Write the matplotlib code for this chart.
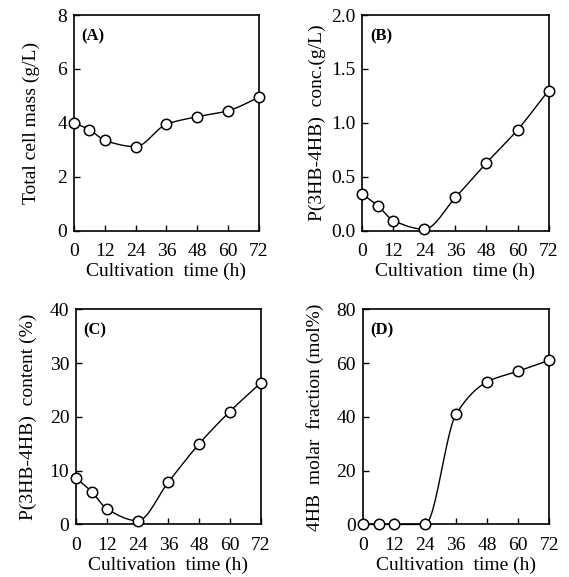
import numpy as np
import matplotlib
matplotlib.use("Agg")
import matplotlib.pyplot as plt

time_h = [0, 6, 12, 24, 36, 48, 60, 72]
cell_mass = [4.0, 3.75, 3.35, 3.12, 3.95, 4.23, 4.45, 4.95]
polymer_conc = [0.34, 0.23, 0.095, 0.015, 0.31, 0.63, 0.935, 1.30]
polymer_content = [8.6, 6.1, 2.9, 0.7, 7.9, 15.0, 21.0, 26.3]
hb4_fraction = [0, 0, 0, 0, 41, 53, 57, 61]

xticks = [0, 12, 24, 36, 48, 60, 72]
panels = [
    ("(A)", cell_mass, "Total cell mass (g/L)", (0, 8), [0, 2, 4, 6, 8], ["0", "2", "4", "6", "8"], 12),
    ("(B)", polymer_conc, "P(3HB-4HB)  conc.(g/L)", (0, 2.0), [0, 0.5, 1.0, 1.5, 2.0], ["0.0", "0.5", "1.0", "1.5", "2.0"], 4),
    ("(C)", polymer_content, "P(3HB-4HB)  content (%)", (0, 40), [0, 10, 20, 30, 40], ["0", "10", "20", "30", "40"], 9),
    ("(D)", hb4_fraction, "4HB  molar  fraction (mol%)", (0, 80), [0, 20, 40, 60, 80], ["0", "20", "40", "60", "80"], 9),
]

plt.rcParams['font.family'] = ['Liberation Serif', 'DejaVu Serif']


def pchip(x, y, xs):
    x = np.asarray(x, float); y = np.asarray(y, float)
    h = np.diff(x); d = np.diff(y) / h
    n = len(x); m = np.zeros(n)
    for k in range(1, n - 1):
        if d[k - 1] * d[k] > 0:
            w1 = 2 * h[k] + h[k - 1]; w2 = h[k] + 2 * h[k - 1]
            m[k] = (w1 + w2) / (w1 / d[k - 1] + w2 / d[k])
    m[0] = d[0]; m[-1] = d[-1]
    idx = np.clip(np.searchsorted(x, xs) - 1, 0, n - 2)
    t = (xs - x[idx]) / h[idx]
    h00 = 2 * t**3 - 3 * t**2 + 1; h10 = t**3 - 2 * t**2 + t
    h01 = -2 * t**3 + 3 * t**2; h11 = t**3 - t**2
    return h00 * y[idx] + h10 * h[idx] * m[idx] + h01 * y[idx + 1] + h11 * h[idx] * m[idx + 1]


fig = plt.figure(figsize=(5.69, 5.77), dpi=100)
positions = [
    [0.130, 0.600, 0.325, 0.374],
    [0.637, 0.600, 0.327, 0.374],
    [0.134, 0.091, 0.324, 0.373],
    [0.638, 0.091, 0.327, 0.373],
]

for pos, (tag, vals, ylabel, ylim, yt, ytl, ypad) in zip(positions, panels):
    ax = fig.add_axes(pos)
    xs = np.linspace(0, 72, 400)
    ys = pchip(time_h, vals, xs)
    ax.plot(xs, ys, color='black', lw=1.0, clip_on=False)
    ax.plot(time_h, vals, 'o', ms=7.5, mfc='white', mec='black', mew=1.1, clip_on=False, zorder=5)
    ax.set_xlim(0, 72)
    ax.set_ylim(*ylim)
    ax.set_xticks(xticks)
    ax.set_xticklabels([str(v) for v in xticks])
    ax.set_yticks(yt)
    ax.set_yticklabels(ytl)
    ax.tick_params(direction='in', length=4, width=1, labelsize=14)
    ax.tick_params(axis='x', pad=9)
    ax.tick_params(axis='y', pad=5)
    for s in ax.spines.values():
        s.set_linewidth(1.2)
    ax.set_xlabel("Cultivation  time (h)", fontsize=14, labelpad=2)
    ax.set_ylabel(ylabel, fontsize=14, labelpad=ypad)
    ax.text(0.04, 0.94, tag, transform=ax.transAxes, fontsize=12, fontweight='bold', va='top', ha='left')

fig.savefig("out.png", dpi=100)
